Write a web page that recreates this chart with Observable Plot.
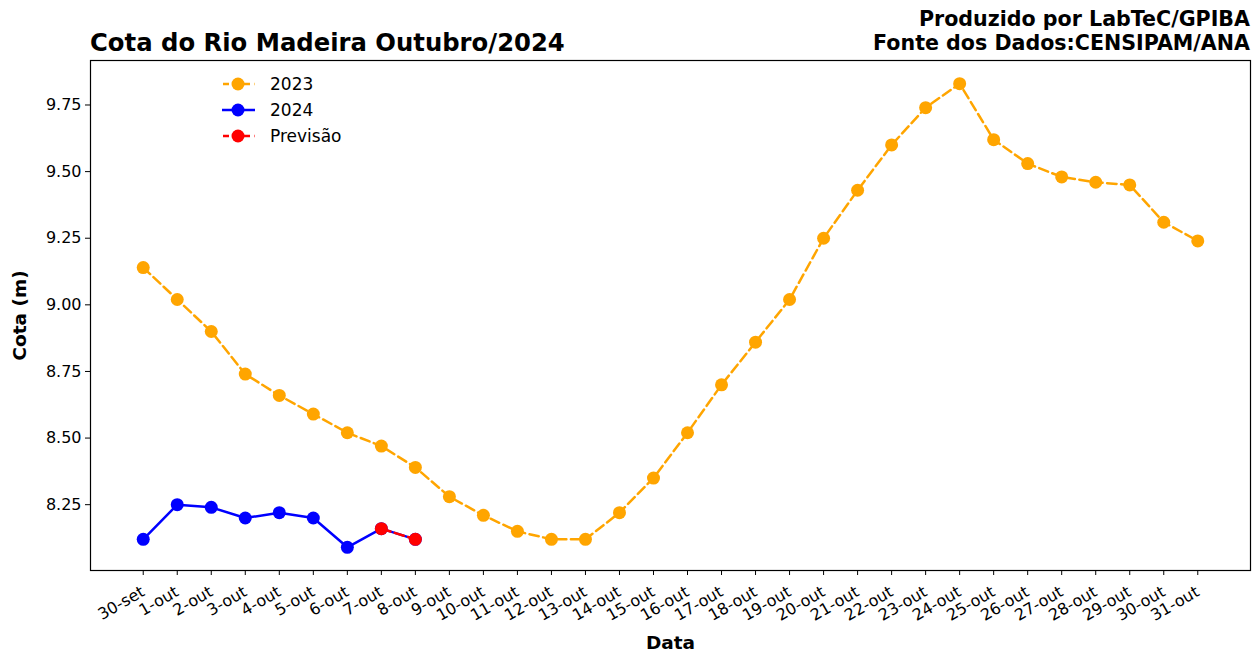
<!DOCTYPE html>
<html><head><meta charset="utf-8">
<script src="https://cdn.jsdelivr.net/npm/d3@7"></script>
<script src="https://cdn.jsdelivr.net/npm/@observablehq/plot@0.6"></script>
<style>
html,body{margin:0;padding:0;background:#fff;font-family:"DejaVu Sans",sans-serif}
#wrap{position:relative;width:1260px;height:651px;overflow:hidden}
#title{position:absolute;left:90px;top:28px;font-weight:bold;font-size:24.3px;color:#000;white-space:nowrap}
#credit{position:absolute;right:10px;top:7px;font-weight:bold;font-size:20.6px;line-height:24px;text-align:right;color:#000;white-space:nowrap}
#legend{position:absolute;left:218px;top:71px;font-size:17px;color:#000}
#legend .row{display:flex;align-items:center;height:26px}
#legend svg{margin-right:12px}
</style></head><body>
<div id="wrap">
<div id="chart"></div>
<div id="title">Cota do Rio Madeira Outubro/2024</div>
<div id="credit">Produzido por LabTeC/GPIBA<br>Fonte dos Dados:CENSIPAM/ANA</div>
<div id="legend"></div>
</div>
<script>
const dates = ["30-set","1-out","2-out","3-out","4-out","5-out","6-out","7-out","8-out","9-out","10-out","11-out","12-out","13-out","14-out","15-out","16-out","17-out","18-out","19-out","20-out","21-out","22-out","23-out","24-out","25-out","26-out","27-out","28-out","29-out","30-out","31-out"];
const cota2023 = [9.14,9.02,8.90,8.74,8.66,8.59,8.52,8.47,8.39,8.28,8.21,8.15,8.12,8.12,8.22,8.35,8.52,8.70,8.86,9.02,9.25,9.43,9.60,9.74,9.83,9.62,9.53,9.48,9.46,9.45,9.31,9.24];
const dates2024 = ["30-set","1-out","2-out","3-out","4-out","5-out","6-out","7-out","8-out"];
const cota2024 = [8.12,8.25,8.24,8.20,8.22,8.20,8.09,8.16,8.12];
const datesPrev = ["7-out","8-out"];
const cotaPrev = [8.16,8.12];
const yTicks = [8.25,8.50,8.75,9.00,9.25,9.50,9.75];
const seriesNames = ["2023","2024","Previsão"];
const seriesColors = ["#FFA500","#0000FF","#FF0000"];
const seriesDash = ["9.5,4.5",null,"9.5,4.5"];

const d2023 = dates.map((d,i)=>({x:i,y:cota2023[i]}));
const d2024 = dates2024.map((d,i)=>({x:dates.indexOf(d),y:cota2024[i]}));
const dPrev = datesPrev.map((d,i)=>({x:dates.indexOf(d),y:cotaPrev[i]}));

const plot = Plot.plot({
  width:1260, height:651,
  marginTop:60, marginBottom:81, marginLeft:90, marginRight:10,
  style:{fontFamily:"DejaVu Sans, sans-serif", fontSize:"16px", color:"#000", background:"#fff"},
  x:{type:"linear", domain:[-1.55,32.55]},
  y:{type:"linear", domain:[8.003,9.917]},
  marks:[
    Plot.axisX({ticks:d3.range(dates.length), tickFormat:i=>dates[i], tickRotate:-30, tickSize:5, tickPadding:15, fontSize:16, label:"Data", labelAnchor:"center", labelArrow:"none", labelOffset:78}),
    Plot.axisY({ticks:yTicks, tickFormat:d3.format(".2f"), tickSize:5, tickPadding:4, fontSize:16, label:"Cota (m)", labelAnchor:"center", labelArrow:"none", labelOffset:78}),
    Plot.line(d2023,{x:"x",y:"y",stroke:seriesColors[0],strokeWidth:2.5,strokeDasharray:seriesDash[0]}),
    Plot.dot(d2023,{x:"x",y:"y",fill:seriesColors[0],r:6.5}),
    Plot.line(d2024,{x:"x",y:"y",stroke:seriesColors[1],strokeWidth:2.5}),
    Plot.dot(d2024,{x:"x",y:"y",fill:seriesColors[1],r:6.5}),
    Plot.line(dPrev,{x:"x",y:"y",stroke:seriesColors[2],strokeWidth:2.5,strokeDasharray:seriesDash[2]}),
    Plot.dot(dPrev,{x:"x",y:"y",fill:seriesColors[2],r:6.5}),
    Plot.frame({stroke:"#000",strokeWidth:1.2})
  ]
});
plot.querySelectorAll('g[aria-label="x-axis label"] text, g[aria-label="y-axis label"] text').forEach(t=>{t.setAttribute("font-weight","bold");t.setAttribute("font-size","18.5");});
document.getElementById("chart").appendChild(plot);

const leg = document.getElementById("legend");
seriesNames.forEach((n,i)=>{
  const row = document.createElement("div"); row.className="row";
  const dash = seriesDash[i] ? `stroke-dasharray="6,4.5" stroke-dashoffset="-1"` : "";
  row.innerHTML = `<svg width="40" height="20"><line x1="4" x2="37" y1="10" y2="10" stroke="${seriesColors[i]}" stroke-width="2.5" ${dash}/><circle cx="20" cy="10" r="6.5" fill="${seriesColors[i]}"/></svg><span>${n}</span>`;
  leg.appendChild(row);
});
</script>
</body></html>
